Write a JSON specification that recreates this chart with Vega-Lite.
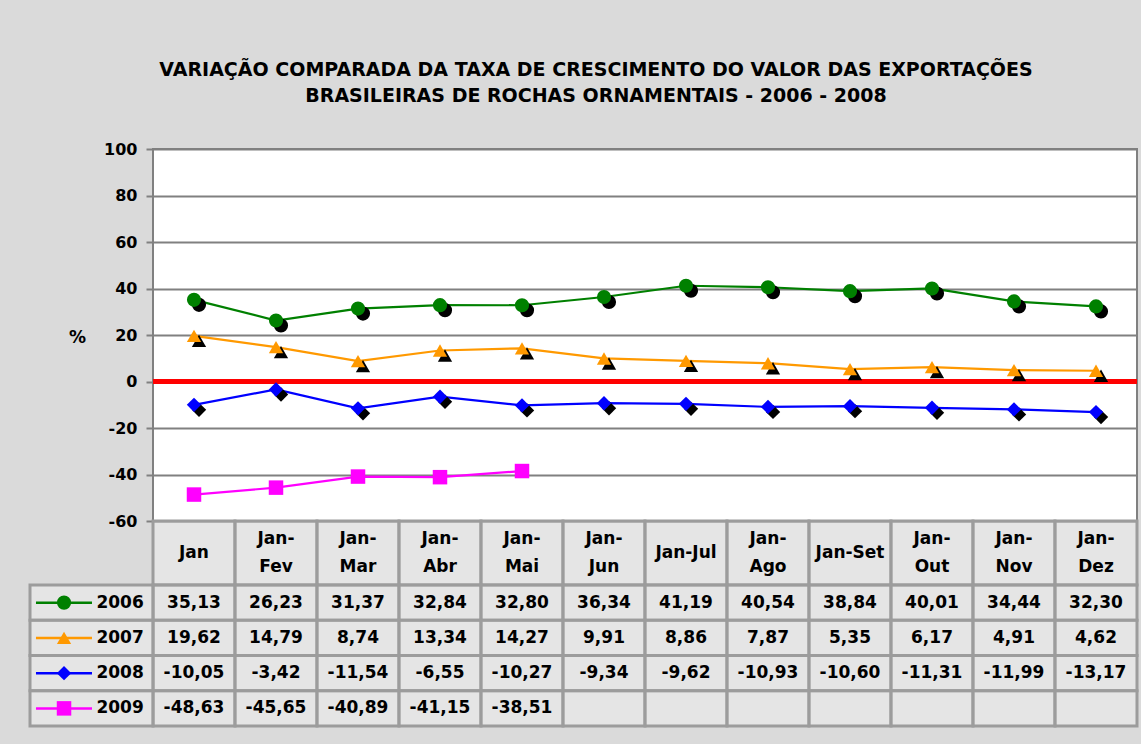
{
  "$schema": "https://vega.github.io/schema/vega-lite/v6.json",
  "autosize": {"type": "pad"},
  "padding": {"left": 28, "top": 61, "right": 3, "bottom": 16},
  "background": "#dadada",
  "spacing": 0,
  "bounds": "flush",
  "title": {
    "text": ["VARIAÇÃO COMPARADA DA TAXA DE CRESCIMENTO DO VALOR DAS EXPORTAÇÕES", "BRASILEIRAS DE ROCHAS ORNAMENTAIS -  2006 - 2008"],
    "font": "DejaVu Sans",
    "fontSize": 19,
    "fontWeight": "bold",
    "color": "black",
    "anchor": "middle",
    "frame": "group",
    "dx": -49,
    "lineHeight": 26,
    "offset": 34
  },
  "config": {
    "font": "DejaVu Sans",
    "view": {"fill": null, "stroke": null}
  },
  "datasets": {
    "serie": [
      {"col": 1, "periodo": "Jan", "ano": "2006", "valor": 35.13},
      {"col": 2, "periodo": "Jan-Fev", "ano": "2006", "valor": 26.23},
      {"col": 3, "periodo": "Jan-Mar", "ano": "2006", "valor": 31.37},
      {"col": 4, "periodo": "Jan-Abr", "ano": "2006", "valor": 32.84},
      {"col": 5, "periodo": "Jan-Mai", "ano": "2006", "valor": 32.80},
      {"col": 6, "periodo": "Jan-Jun", "ano": "2006", "valor": 36.34},
      {"col": 7, "periodo": "Jan-Jul", "ano": "2006", "valor": 41.19},
      {"col": 8, "periodo": "Jan-Ago", "ano": "2006", "valor": 40.54},
      {"col": 9, "periodo": "Jan-Set", "ano": "2006", "valor": 38.84},
      {"col": 10, "periodo": "Jan-Out", "ano": "2006", "valor": 40.01},
      {"col": 11, "periodo": "Jan-Nov", "ano": "2006", "valor": 34.44},
      {"col": 12, "periodo": "Jan-Dez", "ano": "2006", "valor": 32.30},
      {"col": 1, "periodo": "Jan", "ano": "2007", "valor": 19.62},
      {"col": 2, "periodo": "Jan-Fev", "ano": "2007", "valor": 14.79},
      {"col": 3, "periodo": "Jan-Mar", "ano": "2007", "valor": 8.74},
      {"col": 4, "periodo": "Jan-Abr", "ano": "2007", "valor": 13.34},
      {"col": 5, "periodo": "Jan-Mai", "ano": "2007", "valor": 14.27},
      {"col": 6, "periodo": "Jan-Jun", "ano": "2007", "valor": 9.91},
      {"col": 7, "periodo": "Jan-Jul", "ano": "2007", "valor": 8.86},
      {"col": 8, "periodo": "Jan-Ago", "ano": "2007", "valor": 7.87},
      {"col": 9, "periodo": "Jan-Set", "ano": "2007", "valor": 5.35},
      {"col": 10, "periodo": "Jan-Out", "ano": "2007", "valor": 6.17},
      {"col": 11, "periodo": "Jan-Nov", "ano": "2007", "valor": 4.91},
      {"col": 12, "periodo": "Jan-Dez", "ano": "2007", "valor": 4.62},
      {"col": 1, "periodo": "Jan", "ano": "2008", "valor": -10.05},
      {"col": 2, "periodo": "Jan-Fev", "ano": "2008", "valor": -3.42},
      {"col": 3, "periodo": "Jan-Mar", "ano": "2008", "valor": -11.54},
      {"col": 4, "periodo": "Jan-Abr", "ano": "2008", "valor": -6.55},
      {"col": 5, "periodo": "Jan-Mai", "ano": "2008", "valor": -10.27},
      {"col": 6, "periodo": "Jan-Jun", "ano": "2008", "valor": -9.34},
      {"col": 7, "periodo": "Jan-Jul", "ano": "2008", "valor": -9.62},
      {"col": 8, "periodo": "Jan-Ago", "ano": "2008", "valor": -10.93},
      {"col": 9, "periodo": "Jan-Set", "ano": "2008", "valor": -10.60},
      {"col": 10, "periodo": "Jan-Out", "ano": "2008", "valor": -11.31},
      {"col": 11, "periodo": "Jan-Nov", "ano": "2008", "valor": -11.99},
      {"col": 12, "periodo": "Jan-Dez", "ano": "2008", "valor": -13.17},
      {"col": 1, "periodo": "Jan", "ano": "2009", "valor": -48.63},
      {"col": 2, "periodo": "Jan-Fev", "ano": "2009", "valor": -45.65},
      {"col": 3, "periodo": "Jan-Mar", "ano": "2009", "valor": -40.89},
      {"col": 4, "periodo": "Jan-Abr", "ano": "2009", "valor": -41.15},
      {"col": 5, "periodo": "Jan-Mai", "ano": "2009", "valor": -38.51},
      {"col": 6, "periodo": "Jan-Jun", "ano": "2009", "valor": null},
      {"col": 7, "periodo": "Jan-Jul", "ano": "2009", "valor": null},
      {"col": 8, "periodo": "Jan-Ago", "ano": "2009", "valor": null},
      {"col": 9, "periodo": "Jan-Set", "ano": "2009", "valor": null},
      {"col": 10, "periodo": "Jan-Out", "ano": "2009", "valor": null},
      {"col": 11, "periodo": "Jan-Nov", "ano": "2009", "valor": null},
      {"col": 12, "periodo": "Jan-Dez", "ano": "2009", "valor": null}
    ],
    "colunas": [
      {"col": 1, "rotulo": "Jan"},
      {"col": 2, "rotulo": "Jan-|Fev"},
      {"col": 3, "rotulo": "Jan-|Mar"},
      {"col": 4, "rotulo": "Jan-|Abr"},
      {"col": 5, "rotulo": "Jan-|Mai"},
      {"col": 6, "rotulo": "Jan-|Jun"},
      {"col": 7, "rotulo": "Jan-Jul"},
      {"col": 8, "rotulo": "Jan-|Ago"},
      {"col": 9, "rotulo": "Jan-Set"},
      {"col": 10, "rotulo": "Jan-|Out"},
      {"col": 11, "rotulo": "Jan-|Nov"},
      {"col": 12, "rotulo": "Jan-|Dez"}
    ]
  },
  "vconcat": [
    {
      "width": 984,
      "height": 372,
      "view": {"fill": "white", "stroke": "#808080", "strokeWidth": 2},
      "data": {"name": "serie"},
      "transform": [{"filter": "datum.valor != null"}],
      "layer": [
        {
          "mark": {"type": "line", "strokeWidth": 2.2},
          "encoding": {
            "x": {"field": "col", "type": "quantitative", "scale": {"domain": [0.5, 12.5], "nice": false, "zero": false}, "axis": null},
            "y": {
              "field": "valor", "type": "quantitative",
              "scale": {"domain": [-60, 100], "nice": false, "zero": false},
              "axis": {
                "values": [-60, -40, -20, 0, 20, 40, 60, 80, 100],
                "format": "d",
                "labelExpr": "replace(datum.label, '\u2212', '-')",
                "grid": true, "gridColor": "#808080", "gridWidth": 2,
                "domain": false,
                "tickColor": "#808080", "tickWidth": 2, "tickSize": 7,
                "labelFont": "DejaVu Sans", "labelFontSize": 16, "labelFontWeight": "bold", "labelColor": "black", "labelPadding": 9,
                "title": "%", "titleAngle": 0, "titleFont": "DejaVu Sans", "titleFontSize": 17, "titleFontWeight": "bold", "titleColor": "black",
                "titleX": -76, "titleY": 188, "titleAlign": "center", "titleBaseline": "middle"
              }
            },
            "color": {"field": "ano", "type": "nominal", "scale": {"domain": ["2006", "2007", "2008", "2009"], "range": ["#008000", "#ff9900", "#0000ff", "#ff00ff"]}, "legend": null}
          }
        },
        {
          "mark": {"type": "rule", "color": "#ff0000", "strokeWidth": 4},
          "encoding": {"y": {"datum": 0, "type": "quantitative"}}
        },
        {
          "transform": [{"filter": "datum.ano != '2009'"}],
          "mark": {"type": "point", "filled": true, "color": "black", "opacity": 1, "xOffset": 5, "yOffset": 5},
          "encoding": {
            "x": {"field": "col", "type": "quantitative"},
            "y": {"field": "valor", "type": "quantitative"},
            "shape": {"field": "ano", "type": "nominal", "scale": {"domain": ["2006", "2007", "2008", "2009"], "range": ["circle", "triangle-up", "diamond", "square"]}, "legend": null},
            "size": {"field": "ano", "type": "ordinal", "scale": {"domain": ["2006", "2007", "2008", "2009"], "range": [200, 210, 210, 256]}, "legend": null}
          }
        },
        {
          "mark": {"type": "point", "filled": true, "opacity": 1},
          "encoding": {
            "x": {"field": "col", "type": "quantitative"},
            "y": {"field": "valor", "type": "quantitative"},
            "color": {"field": "ano", "type": "nominal", "legend": null},
            "shape": {"field": "ano", "type": "nominal", "legend": null},
            "size": {"field": "ano", "type": "ordinal", "legend": null}
          }
        }
      ]
    },
    {
      "width": 984,
      "height": 64,
      "data": {"name": "colunas"},
      "transform": [{"calculate": "datum.col - 0.5", "as": "x0"}, {"calculate": "datum.col + 0.5", "as": "x1"}],
      "layer": [
        {
          "mark": {"type": "rect", "fill": "white", "fillOpacity": 0.3, "stroke": "#9c9c9c", "strokeWidth": 3},
          "encoding": {
            "x": {"field": "x0", "type": "quantitative", "scale": {"domain": [0.5, 12.5], "nice": false, "zero": false}, "axis": null},
            "x2": {"field": "x1"}
          }
        },
        {
          "transform": [{"filter": "indexof(datum.rotulo, '|') < 0"}],
          "mark": {"type": "text", "fontSize": 17, "fontWeight": "bold", "color": "black", "baseline": "middle", "align": "center"},
          "encoding": {
            "x": {"field": "col", "type": "quantitative", "axis": null},
            "text": {"field": "rotulo", "type": "nominal"}
          }
        },
        {
          "transform": [{"filter": "indexof(datum.rotulo, '|') >= 0"}],
          "mark": {"type": "text", "fontSize": 17, "fontWeight": "bold", "color": "black", "lineBreak": "|", "lineHeight": 28, "baseline": "middle", "align": "center", "dy": -14},
          "encoding": {
            "x": {"field": "col", "type": "quantitative", "axis": null},
            "text": {"field": "rotulo", "type": "nominal"}
          }
        }
      ]
    },
    {
      "width": 984,
      "height": 141,
      "data": {"name": "serie"},
      "transform": [{"calculate": "datum.col - 0.5", "as": "x0"}, {"calculate": "datum.col + 0.5", "as": "x1"}],
      "encoding": {
        "y": {"field": "ano", "type": "nominal", "scale": {"domain": ["2006", "2007", "2008", "2009"], "paddingInner": 0, "paddingOuter": 0}, "axis": null}
      },
      "layer": [
        {
          "mark": {"type": "rect", "fill": "white", "fillOpacity": 0.3, "stroke": "#9c9c9c", "strokeWidth": 3},
          "encoding": {
            "x": {"field": "x0", "type": "quantitative", "scale": {"domain": [0.5, 12.5], "nice": false, "zero": false}, "axis": null},
            "x2": {"field": "x1"}
          }
        },
        {
          "transform": [{"filter": "datum.col == 1"}],
          "mark": {"type": "rect", "fill": "white", "fillOpacity": 0.3, "stroke": "#9c9c9c", "strokeWidth": 3},
          "encoding": {
            "x": {"datum": -1.0, "type": "quantitative"},
            "x2": {"datum": 0.5}
          }
        },
        {
          "transform": [{"filter": "datum.valor != null"}, {"calculate": "replace(replace(format(datum.valor, '.2f'), '.', ','), '\u2212', '-')", "as": "rotulo"}],
          "mark": {"type": "text", "fontSize": 17, "fontWeight": "bold", "color": "black", "baseline": "middle", "align": "center"},
          "encoding": {
            "x": {"field": "col", "type": "quantitative"},
            "text": {"field": "rotulo", "type": "nominal"}
          }
        },
        {
          "transform": [{"filter": "datum.col == 1"}],
          "mark": {"type": "rule", "strokeWidth": 2.5},
          "encoding": {
            "x": {"datum": -0.927, "type": "quantitative"},
            "x2": {"datum": -0.244},
            "color": {"field": "ano", "type": "nominal", "scale": {"domain": ["2006", "2007", "2008", "2009"], "range": ["#008000", "#ff9900", "#0000ff", "#ff00ff"]}, "legend": null}
          }
        },
        {
          "transform": [{"filter": "datum.col == 1"}],
          "mark": {"type": "point", "filled": true, "opacity": 1},
          "encoding": {
            "x": {"datum": -0.585, "type": "quantitative"},
            "color": {"field": "ano", "type": "nominal", "legend": null},
            "shape": {"field": "ano", "type": "nominal", "scale": {"domain": ["2006", "2007", "2008", "2009"], "range": ["circle", "triangle-up", "diamond", "square"]}, "legend": null},
            "size": {"field": "ano", "type": "ordinal", "scale": {"domain": ["2006", "2007", "2008", "2009"], "range": [200, 170, 170, 256]}, "legend": null}
          }
        },
        {
          "transform": [{"filter": "datum.col == 1"}],
          "mark": {"type": "text", "fontSize": 17, "fontWeight": "bold", "color": "black", "baseline": "middle", "align": "left"},
          "encoding": {
            "x": {"datum": -0.19, "type": "quantitative"},
            "text": {"field": "ano", "type": "nominal"}
          }
        }
      ]
    }
  ]
}
